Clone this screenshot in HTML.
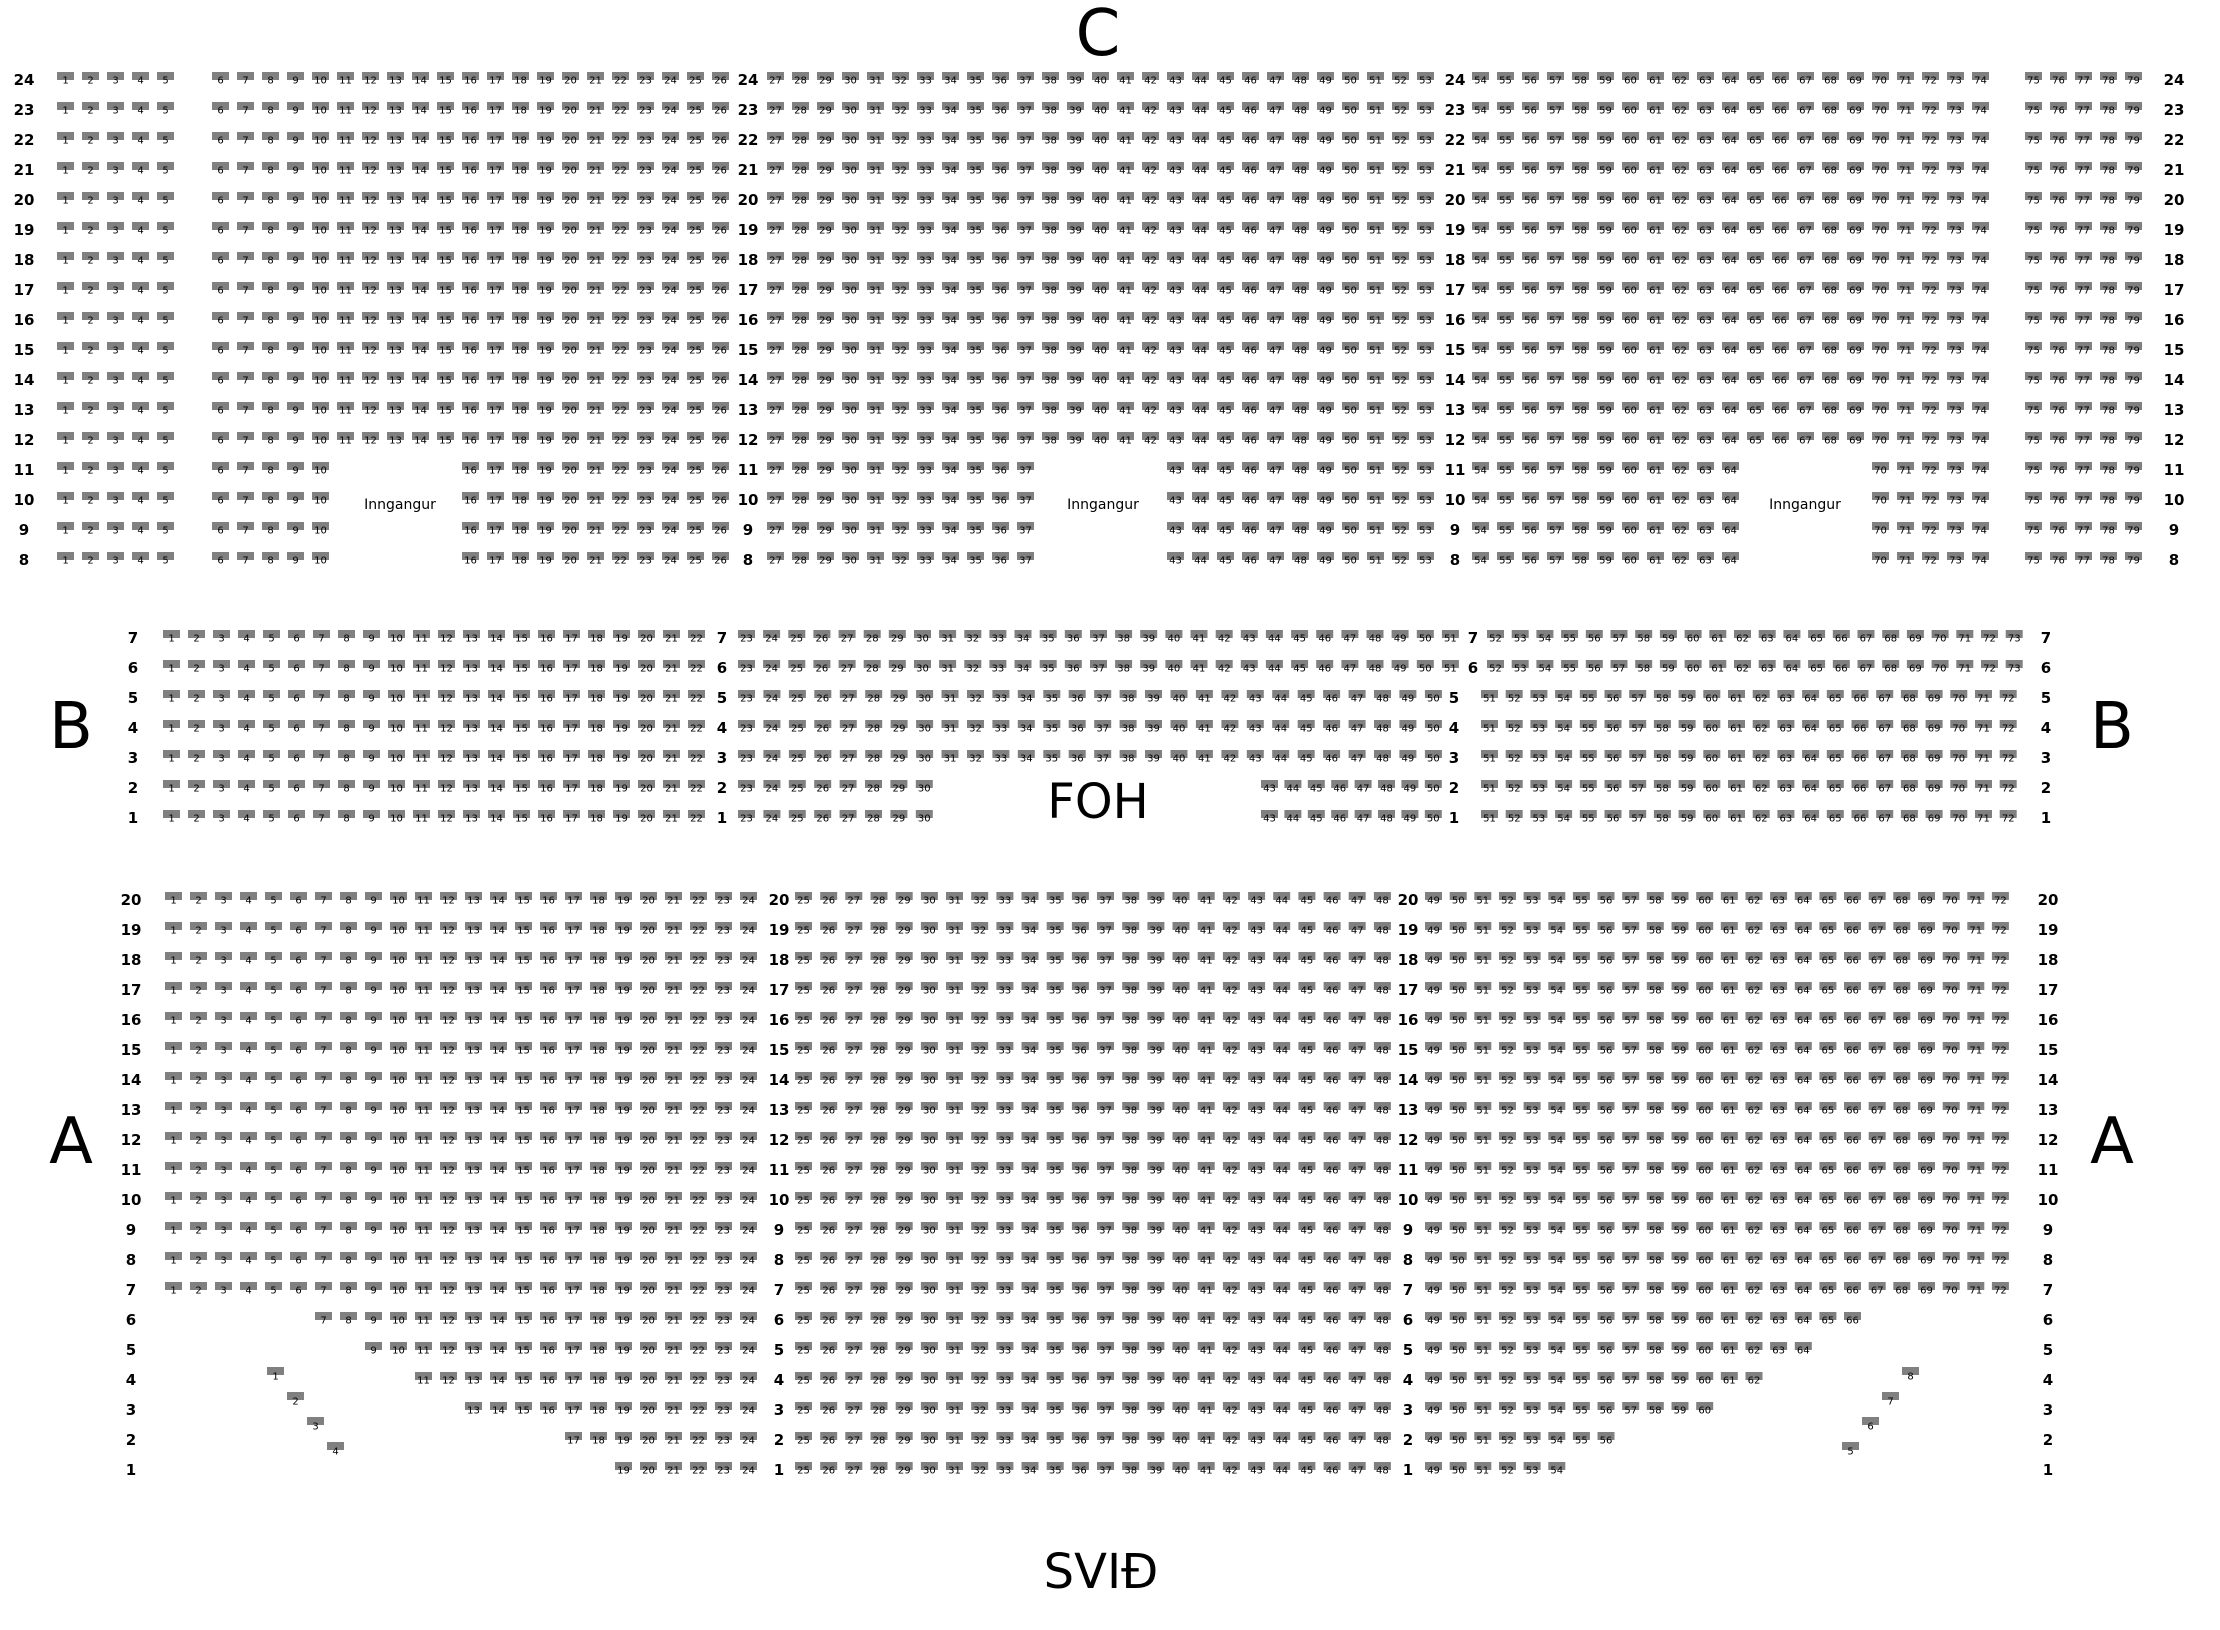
<!DOCTYPE html>
<html><head><meta charset="utf-8"><style>
html,body{margin:0;padding:0;background:#fff;}
svg{display:block;}
text{font-family:"DejaVu Sans","Liberation Sans",sans-serif;}
.s{font-size:10px;fill:#000;}
.l{font-size:15px;font-weight:bold;fill:#000;}
</style></head><body>
<svg id="m" width="2220" height="1630" viewBox="0 0 2220 1630" xmlns="http://www.w3.org/2000/svg">
<rect width="2220" height="1630" fill="#fff"/>
<g text-anchor="middle" dominant-baseline="central" fill="#000">
<text x="1098" y="34" font-size="64">C</text>
<text x="71" y="727" font-size="64">B</text>
<text x="2112" y="727" font-size="64">B</text>
<text x="1098" y="802" font-size="48">FOH</text>
<text x="71" y="1142" font-size="64">A</text>
<text x="2112" y="1142" font-size="64">A</text>
<text x="1101" y="1572" font-size="48">SVIĐ</text>
<text x="400" y="505" font-size="14">Inngangur</text>
<text x="1103" y="505" font-size="14">Inngangur</text>
<text x="1805" y="505" font-size="14">Inngangur</text>
</g>
<g id="g"></g>
</svg>
<script>
(function(){
var h=[];
function seat(x,y,n){h.push('<rect x="'+x.toFixed(1)+'" y="'+(y-8)+'" width="17" height="8" fill="#808080"/><text class="s" x="'+(x+8.5).toFixed(1)+'" y="'+(y+1)+'" text-anchor="middle" dominant-baseline="central">'+n+'</text>');}
function lab(x,y,t){h.push('<text class="l" x="'+x+'" y="'+y+'" text-anchor="middle" dominant-baseline="central">'+t+'</text>');}
function run(a,b,x0,p,y,skip){for(var i=a;i<=b;i++){if(skip&&skip(i))continue;seat(x0+(i-a)*p,y,i);}}
// C
for(var r=24;r>=8;r--){var y=80+30*(24-r);var sk=r<=11?function(i){return (i>=11&&i<=15)||(i>=38&&i<=42)||(i>=65&&i<=69);}:null;
lab(24,y,r);lab(2174,y,r);lab(748,y,r);lab(1455,y,r);
run(1,5,57,25,y);run(6,26,212,25,y,sk);run(27,53,767,25,y,sk);run(54,74,1472,25,y,sk);run(75,79,2025,25,y);}
// B
for(var r=7;r>=1;r--){var y=638+30*(7-r);lab(133,y,r);lab(2046,y,r);lab(722,y,r);
run(1,22,163,25,y);
if(r>=6){lab(1473,y,r);run(23,51,738,25.14,y);run(52,73,1487,24.7,y);}
else{lab(1454,y,r);
if(r<=2){run(23,30,738,25.4,y);run(43,50,1261,23.4,y);}
else run(23,50,738,25.44,y);
run(51,72,1481,24.7,y);}}
// A
var lmin={6:7,5:9,4:11,3:13,2:17,1:19},rmax={6:66,5:64,4:62,3:60,2:56,1:54};
for(var r=20;r>=1;r--){var y=900+30*(20-r);lab(131,y,r);lab(2048,y,r);lab(779,y,r);lab(1408,y,r);
var a=lmin[r]||1,b=rmax[r]||72;
for(var i=a;i<=24;i++)seat(165+(i-1)*25,y,i);
run(25,48,795,25.17,y);run(49,b,1425,24.65,y);}
// wheelchair
var w=[[1,267,1367],[2,287,1392],[3,307,1417],[4,327,1442],[8,1902,1367],[7,1882,1392],[6,1862,1417],[5,1842,1442]];
w.forEach(function(q){h.push('<rect x="'+q[1]+'" y="'+q[2]+'" width="17" height="8" fill="#808080"/><text class="s" x="'+(q[1]+8.5)+'" y="'+(q[2]+10)+'" text-anchor="middle" dominant-baseline="central">'+q[0]+'</text>');});
document.getElementById('g').innerHTML=h.join('');
})();
</script>
</body></html>
